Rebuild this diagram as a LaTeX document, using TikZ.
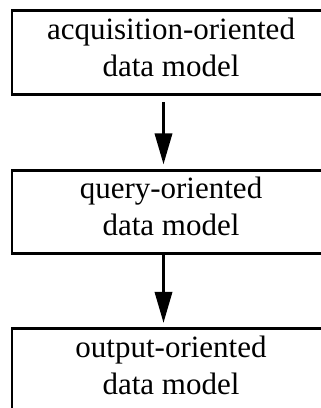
\documentclass[tikz,border=0pt]{standalone}
\usepackage{fontspec}
\setmainfont{Liberation Serif}
\usetikzlibrary{arrows.meta}
\begin{document}
\begin{tikzpicture}[x=1pt,y=-1pt,
  stagebox/.style={draw, line width=2.6pt, outer sep=0pt, inner sep=0pt,
    minimum width=318pt, minimum height=83.5pt, align=center,
    font=\fontsize{31}{37}\selectfont},
  flow/.style={line width=2.2pt,
    -{Triangle[length=31pt,width=17.5pt]}}]
  \clip (0,0) rectangle (321,408);
  % the three stages of the data model pipeline
  \node[stagebox] (acq) at (171,52.5) {acquisition-oriented\\data model\strut};
  \node[stagebox] (qry) at (171,212) {query-oriented\\data model\strut};
  \node[stagebox] (out) at (171,370.5) {output-oriented\\data model\strut};
  % arrows between consecutive stages, slightly left of centre
  \draw[flow, shorten <=8pt, shorten >=6pt]
    ([xshift=-7.5pt]acq.south) -- ([xshift=-7.5pt]qry.north);
  \draw[flow, shorten >=6pt]
    ([xshift=-7.5pt]qry.south) -- ([xshift=-7.5pt]out.north);
\end{tikzpicture}
\end{document}
